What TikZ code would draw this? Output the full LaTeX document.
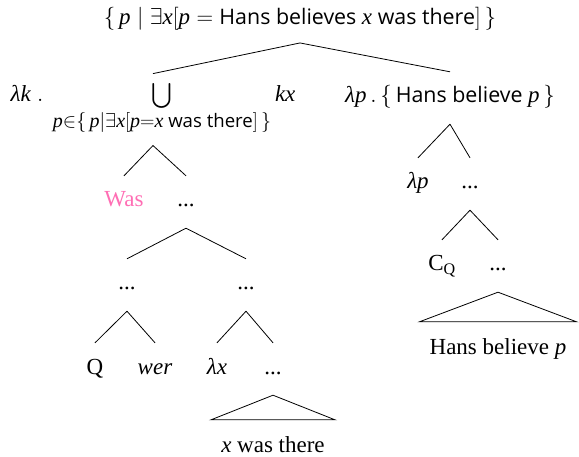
\RequirePackage{fix-cm}
\documentclass[tikz,border=0pt]{standalone}
\usepackage{amsmath}
\usepackage{fontspec}
\setmainfont{Liberation Serif}
\setsansfont{Open Sans}[Scale=0.93]
\newcommand{\myit}[1]{\text{\normalfont\itshape #1}}
\definecolor{waspink}{HTML}{FF6EB4}
\begin{document}
\begin{tikzpicture}[x=1pt,y=-1pt,
  lab/.style={inner xsep=0pt, inner ysep=12pt, anchor=base, font=\fontsize{23}{27}\selectfont},
  leaf/.style={lab, text height=19pt, text depth=9pt},
  roof/.style={lab, text height=19pt, text depth=6pt, inner ysep=14pt},
  branch/.style={draw=black, line width=0.8pt}]
\useasboundingbox (0,0) rectangle (579,457);
% nodes
\node[lab] (top) at (300,25) {$\{\, \myit{p} \mid \exists \myit{x}[\myit{p} = \text{\sffamily Hans believes } \myit{x} \text{\sffamily\ was there}] \,\}$};
\node[lab, inner ysep=10pt] (L) at (153,102) {$\myit{λk}\;.\ \bigcup\limits_{\text{\fontsize{20}{23}\selectfont$\myit{p}{\in}\{\,\myit{p}|\exists \myit{x}[\myit{p}{=}\myit{x}\text{\sffamily\ was there}]\,\}$}} \myit{kx}$};
\node[leaf] (R) at (450,103) {$\myit{λp}\,.\,\{\,\text{\sffamily Hans believe } \myit{p}\,\}$};
\node[leaf, text=waspink] (was) at (124,207) {Was};
\node[leaf] (d1) at (186,207) {...};
\node[leaf] (d2) at (127,290) {...};
\node[leaf] (d3) at (246,290) {...};
\node[leaf] (q) at (95,374) {Q};
\node[leaf] (wer) at (155,374) {\textit{wer}};
\node[leaf] (lx) at (217,374) {\textit{λx}};
\node[leaf] (d4) at (273,374) {...};
\node[roof] (xwt) at (273,453) {\textit{x} was there};
\node[leaf] (lp) at (418,189) {\textit{λp}};
\node[leaf] (d5) at (470,189) {...};
\node[leaf] (cq) at (442,271) {C$_{\text{Q}}$};
\node[leaf] (d6) at (498,271) {...};
\node[roof] (hb) at (498,355) {Hans believe \textit{p}};
% connectors
\draw[branch] (top.south) -- (L.north);
\draw[branch] (top.south) -- (R.north);
\draw[branch] (L.south) -- (was.north);
\draw[branch] (L.south) -- (d1.north);
\draw[branch] (d1.south) -- (d2.north);
\draw[branch] (d1.south) -- (d3.north);
\draw[branch] (d2.south) -- (q.north);
\draw[branch] (d2.south) -- (wer.north);
\draw[branch] (d3.south) -- (lx.north);
\draw[branch] (d3.south) -- (d4.north);
\draw[branch] (d4.south) -- ([xshift=-10pt]xwt.north west) -- ([xshift=10pt]xwt.north east) -- cycle;
\draw[branch] (R.south) -- (lp.north);
\draw[branch] (R.south) -- (d5.north);
\draw[branch] (d5.south) -- (cq.north);
\draw[branch] (d5.south) -- (d6.north);
\draw[branch] (d6.south) -- ([xshift=-10pt]hb.north west) -- ([xshift=10pt]hb.north east) -- cycle;
\end{tikzpicture}
\end{document}
